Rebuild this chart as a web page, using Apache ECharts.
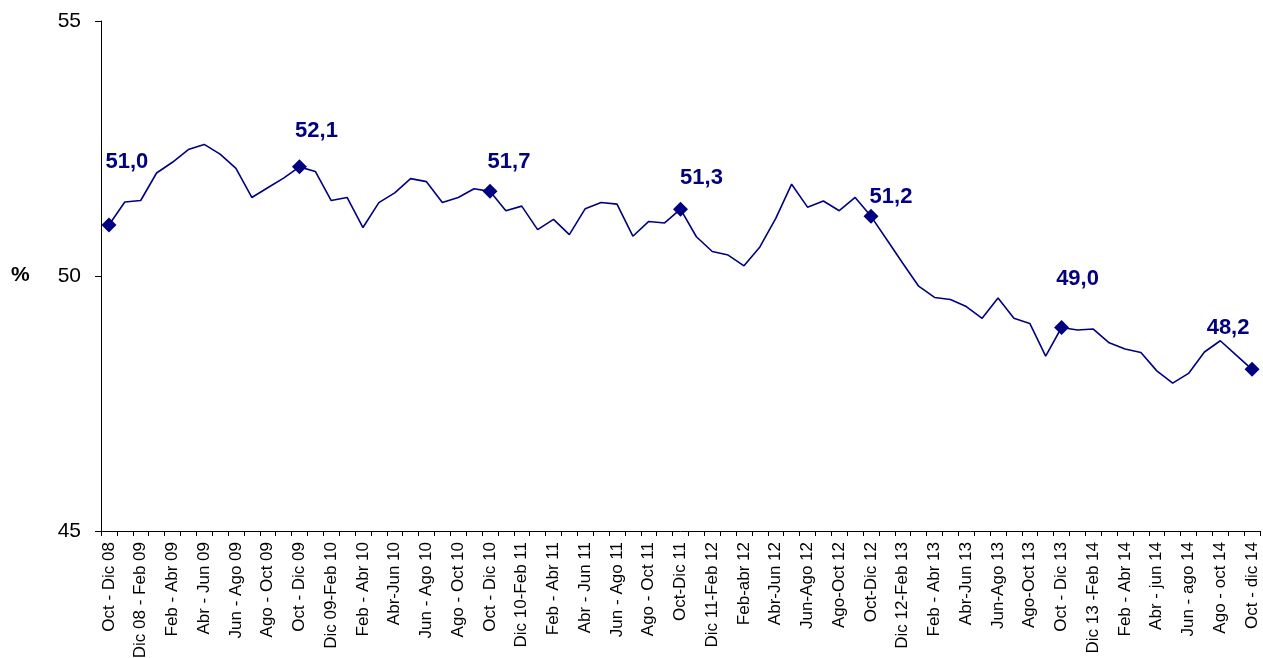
<!DOCTYPE html>
<html>
<head>
<meta charset="utf-8">
<script src="https://cdn.jsdelivr.net/npm/echarts@6/dist/echarts.min.js"></script>
<style>
html,body{margin:0;padding:0;background:#fff;}
#chart{width:1263px;height:658px;}
</style>
</head>
<body>
<div id="chart"></div>
<script>
const categories = [
'Oct - Dic 08','Nov 08 - Ene 09','Dic 08 - Feb 09','Ene - Mar 09','Feb - Abr 09','Mar - May 09','Abr - Jun 09','May - Jul 09','Jun - Ago 09','Jul - Sep 09','Ago - Oct 09','Sep - Nov 09',
'Oct - Dic 09','Nov 09 - Ene 10','Dic 09-Feb 10','Ene - Mar 10','Feb - Abr 10','Mar - May 10','Abr-Jun 10','May - Jul 10','Jun - Ago 10','Jul - Sep 10','Ago - Oct 10','Sep - Nov 10',
'Oct - Dic 10','Nov 10 - Ene 11','Dic 10-Feb 11','Ene - Mar 11','Feb - Abr 11','Mar - May 11','Abr - Jun 11','May - Jul 11','Jun - Ago 11','Jul - Sep 11','Ago - Oct 11','Sep - Nov 11',
'Oct-Dic 11','Nov 11-Ene 12','Dic 11-Feb 12','Ene-Mar 12','Feb-abr 12','Mar-May 12','Abr-Jun 12','May-Jul 12','Jun-Ago 12','Jul-Sep 12','Ago-Oct 12','Sep-Nov 12',
'Oct-Dic 12','Nov 12-Ene 13','Dic 12-Feb 13','Ene - Mar 13','Feb - Abr 13','Mar - May 13','Abr-Jun 13','May-Jul 13','Jun-Ago 13','Jul-Sep 13','Ago-Oct 13','Sep-Nov 13',
'Oct - Dic 13','Nov 13 - Ene 14','Dic 13 -Feb 14','Ene - Mar 14','Feb - Abr 14','Mar - may 14','Abr - jun 14','May - jul 14','Jun - ago 14','Jul - sep 14','Ago - oct 14','Sep - nov 14',
'Oct - dic 14'
];
const values = [
51.0,51.45,51.48,52.02,52.23,52.48,52.58,52.39,52.11,51.54,51.73,51.92,
52.14,52.05,51.48,51.54,50.95,51.44,51.63,51.91,51.85,51.44,51.54,51.71,
51.66,51.28,51.37,50.91,51.11,50.81,51.32,51.44,51.41,50.78,51.07,51.04,
51.31,50.77,50.48,50.41,50.20,50.57,51.13,51.80,51.35,51.47,51.28,51.54,
51.17,50.71,50.25,49.80,49.58,49.54,49.40,49.17,49.57,49.17,49.07,48.43,
48.99,48.94,48.96,48.69,48.57,48.50,48.14,47.90,48.09,48.51,48.73,48.45,
48.17
];
const markedIndices = [0,12,24,36,48,60,72];
const yTicks = [45,50,55];

// label placement (style only)
const labelOffsets = {0:[18,-63],12:[17,-36],24:[19,-29],36:[21,-31],48:[20,-19],60:[16,-49],72:[-24,-41]};

const navy = '#000080';
const seriesData = values.map((v,i) => {
  if (markedIndices.indexOf(i) >= 0) {
    return {
      value: v,
      symbol: 'diamond',
      symbolSize: 15,
      label: {
        show: true,
        position: 'inside',
        offset: labelOffsets[i],
        formatter: p => p.value.toFixed(1).replace('.', ','),
        color: navy,
        fontFamily: 'Liberation Sans, Arial, sans-serif',
        fontWeight: 'bold',
        fontSize: 22
      }
    };
  }
  return {value: v, symbol: 'none'};
});

const chart = echarts.init(document.getElementById('chart'), null, {renderer: 'canvas'});
chart.setOption({
  animation: false,
  backgroundColor: '#fff',
  grid: {left: 101, right: 3, top: 21, bottom: 127, containLabel: false, outerBoundsMode: 'none'},
  xAxis: {
    type: 'category',
    data: categories,
    boundaryGap: true,
    axisLine: {lineStyle: {color: '#000', width: 1}},
    axisTick: {show: true, interval: 0, length: 5, lineStyle: {color: '#000'}},
    axisLabel: {
      interval: 1,
      rotate: 90,
      margin: 11,
      color: '#000',
      fontFamily: 'Liberation Sans, Arial, sans-serif',
      fontSize: 17
    },
    splitLine: {show: false}
  },
  yAxis: {
    type: 'value',
    min: yTicks[0],
    max: yTicks[yTicks.length - 1],
    interval: yTicks[1] - yTicks[0],
    axisLine: {show: true, lineStyle: {color: '#000', width: 1}},
    axisTick: {show: true, length: 6, lineStyle: {color: '#000'}},
    axisLabel: {
      margin: 20,
      color: '#000',
      fontFamily: 'Liberation Sans, Arial, sans-serif',
      fontSize: 21
    },
    splitLine: {show: false}
  },
  graphic: [{
    type: 'text',
    left: 11,
    top: 265,
    style: {text: '%', fill: '#000', font: 'bold 21px "Liberation Sans", Arial, sans-serif'}
  }],
  series: [{
    type: 'line',
    data: seriesData,
    lineStyle: {color: navy, width: 1.6},
    itemStyle: {color: navy},
    showAllSymbol: true,
    emphasis: {disabled: true}
  }]
});
</script>
</body>
</html>
